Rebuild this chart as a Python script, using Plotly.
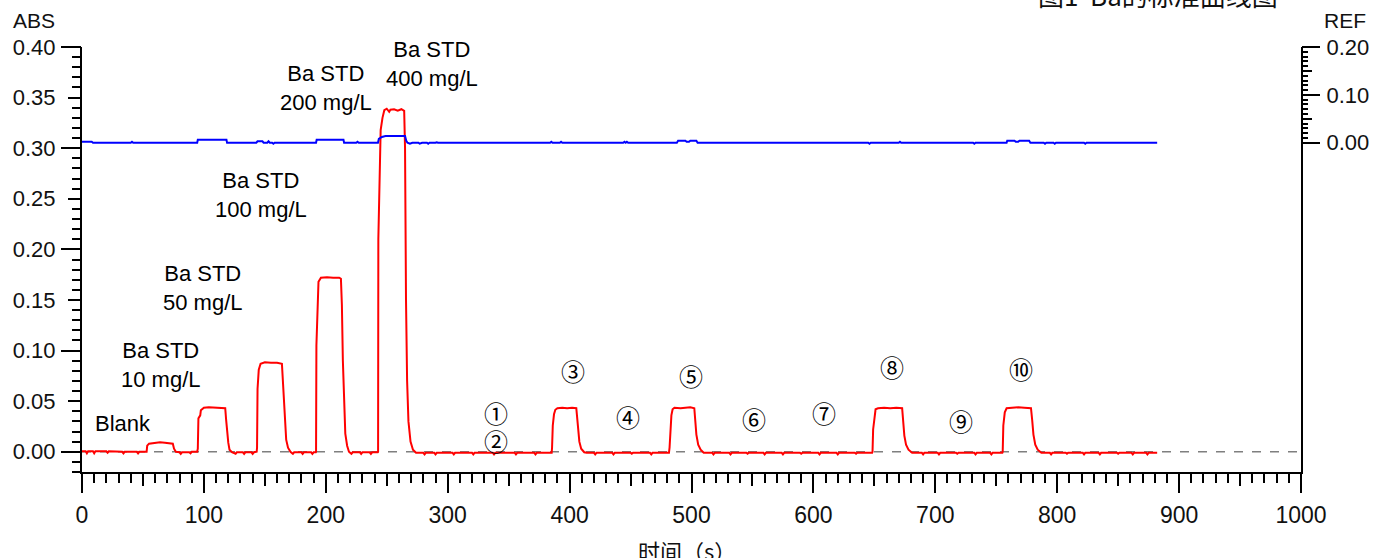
import plotly.graph_objects as go

# ---------------- data ----------------
red_time = [0, 3, 4, 5, 9, 10, 11, 20, 21, 22, 33, 34, 35, 45, 46, 47, 53,
            53.5, 55, 60, 64, 68, 72, 74.5, 75.5, 77, 80, 81, 82, 88, 89, 90, 94.5,
            95, 95.5, 97, 97.5, 100, 104, 108, 113, 117.5, 118.2, 119, 120, 121, 123, 126, 127, 132, 133, 134, 139, 140, 141, 143.3,
            143.6, 144, 145, 146.5, 150, 155, 160, 164, 164.7, 165.5, 166.5, 167.5, 169, 171, 173, 174, 180, 181, 182, 188, 189, 190, 191.8,
            192, 192.3, 193.2, 194, 196, 201, 206, 211, 212.4, 213.2, 214, 215, 216, 217.5, 219, 221, 222, 228, 229, 230, 236, 237, 238, 242.6,
            242.9, 243.1, 244, 245, 246.5, 248, 250, 252, 253, 256, 259, 262, 264.3, 265, 265.8, 266.7, 267.8, 269.5, 271.5, 274,
            280, 281, 282, 289, 290, 291, 304, 305, 306, 320, 321, 322, 337, 338, 339, 355, 356, 357, 371, 372, 373, 385.3,
            385.6, 386.2, 387.2, 388.3, 390, 394, 398, 402, 405.5, 406.3, 407, 408, 409.5, 412, 414,
            420, 421, 422, 435, 436, 437, 450, 451, 452, 466, 467, 468, 481.5,
            482, 482.6, 483.5, 484.5, 486, 491, 495, 499, 502.3, 503, 504, 505.5, 507.5, 510,
            517, 518, 519, 531, 532, 533, 545, 546, 547, 559, 560, 561, 574, 575, 576, 589, 590, 591, 604, 605, 606, 619, 620, 621, 634, 635, 636, 648.2,
            648.5, 649, 650, 651, 653, 658, 663, 668, 672.8, 673.6, 674.6, 676, 678, 681,
            689, 690, 691, 702, 703, 704, 717, 718, 719, 732, 733, 734, 745, 746, 747, 755,
            755.3, 755.8, 757, 758.5, 763, 768, 773, 778.5, 779.5, 780.5, 782, 784, 787,
            794, 795, 796, 807, 808, 809, 821, 822, 823, 834, 835, 836, 849, 850, 851, 861, 862, 863, 873, 874, 875, 882]
red_abs = [0.0005, 0.0005, -0.0015, 0.0005, 0.0005, -0.0015, 0.0005, 0.0005, -0.001, 0.0005, 0.0, -0.0015, 0.0, 0.0, -0.0015, 0.0, 0.0,
           0.006, 0.008, 0.009, 0.0095, 0.009, 0.0085, 0.008, 0.003, 0.0, -0.0005, -0.002, -0.0005, -0.0005, -0.0015, 0.0, 0.0,
           0.003, 0.033, 0.036, 0.041, 0.0435, 0.044, 0.0435, 0.0435, 0.043, 0.032, 0.020, 0.009, 0.002, -0.0005, -0.002, -0.0005, -0.0005, -0.002, -0.0005, -0.0005, -0.002, -0.0005, 0.0,
           0.004, 0.062, 0.081, 0.087, 0.0885, 0.088, 0.088, 0.087, 0.072, 0.050, 0.030, 0.012, 0.004, 0.0, -0.002, -0.0005, -0.0005, -0.002, -0.0005, -0.0005, -0.002, -0.0005, -0.0005,
           0.0, 0.105, 0.150, 0.168, 0.172, 0.1725, 0.172, 0.172, 0.171, 0.145, 0.090, 0.045, 0.018, 0.006, 0.0, -0.002, -0.0005, -0.0005, -0.002, -0.0005, -0.0005, -0.002, -0.0005, -0.0005,
           0.0, 0.210, 0.285, 0.318, 0.330, 0.3375, 0.339, 0.336, 0.338, 0.3385, 0.337, 0.3385, 0.337, 0.300, 0.150, 0.070, 0.030, 0.010, 0.002, -0.001,
           -0.001, -0.0025, -0.001, -0.001, -0.0025, -0.001, -0.001, -0.0025, -0.001, -0.001, -0.0025, -0.001, -0.001, -0.0025, -0.001, -0.001, -0.0025, -0.001, -0.001, -0.0025, -0.001, -0.001,
           0.004, 0.026, 0.037, 0.0415, 0.043, 0.0435, 0.043, 0.0435, 0.043, 0.034, 0.022, 0.010, 0.003, -0.0005, -0.001,
           -0.001, -0.0025, -0.001, -0.001, -0.0025, -0.001, -0.001, -0.002, -0.001, -0.001, -0.0025, -0.001, -0.001,
           0.004, 0.022, 0.036, 0.042, 0.0435, 0.043, 0.0435, 0.044, 0.043, 0.031, 0.017, 0.007, 0.002, -0.001,
           -0.001, -0.0025, -0.001, -0.001, -0.0025, -0.001, -0.001, -0.002, -0.001, -0.001, -0.0025, -0.001, -0.001, -0.0025, -0.001, -0.001, -0.002, -0.001, -0.001, -0.0025, -0.001, -0.001, -0.0025, -0.001, -0.001, -0.002, -0.001, -0.001,
           0.0, 0.022, 0.036, 0.042, 0.043, 0.0435, 0.043, 0.0435, 0.043, 0.030, 0.016, 0.007, 0.002, -0.001,
           -0.001, -0.0025, -0.001, -0.001, -0.0025, -0.001, -0.001, -0.002, -0.001, -0.001, -0.0025, -0.001, -0.001, -0.0025, -0.001, -0.001,
           0.0, 0.026, 0.039, 0.043, 0.0435, 0.044, 0.0435, 0.043, 0.031, 0.017, 0.007, 0.002, -0.001,
           -0.001, -0.0025, -0.001, -0.001, -0.002, -0.001, -0.001, -0.0025, -0.001, -0.001, -0.0025, -0.001, -0.001, -0.002, -0.001, -0.001, -0.0025, -0.001, -0.001, -0.0025, -0.001, -0.001]

ref_time = [0, 8, 9, 40, 41, 42, 94.5, 95, 118.5, 119, 143, 144, 148, 149, 152, 153, 154, 156, 157, 158,
            192, 192.5, 214.5, 215, 225, 226, 227, 242.8, 243.5, 246, 249, 265, 266, 267, 269, 271,
            276, 277, 279, 283, 284, 285, 290, 291, 292, 384, 385, 386, 392, 393, 394, 444, 445, 446, 447, 448,
            488, 489, 495, 496, 498, 499, 504, 505, 645, 646, 647, 670, 671, 672, 731, 732, 733,
            758.5, 759, 765, 766, 768, 769, 777, 778, 789, 790, 791, 797, 798, 799, 822, 823, 824, 882]
ref_value = [0.002, 0.002, 0.0, 0.0, 0.002, 0.0, 0.0, 0.006, 0.006, 0.0, 0.0, 0.003, 0.003, 0.0, 0.0, 0.003, 0.0, 0.0, -0.002, 0.0,
             0.0, 0.006, 0.006, 0.0, 0.0, 0.002, 0.0, 0.0, 0.008, 0.012, 0.014, 0.014, 0.004, 0.0, -0.002, 0.0,
             0.0, -0.002, 0.0, 0.0, -0.002, 0.0, 0.0, 0.001, 0.0, 0.0, 0.002, 0.0, 0.0, 0.002, 0.0, 0.0, 0.002, 0.0, 0.002, 0.0,
             0.0, 0.004, 0.004, 0.002, 0.002, 0.004, 0.004, 0.0, 0.0, -0.002, 0.0, 0.0, 0.002, 0.0, 0.0, -0.002, 0.0,
             0.0, 0.004, 0.004, 0.002, 0.002, 0.004, 0.004, 0.0, 0.0, -0.002, 0.0, 0.0, -0.002, 0.0, 0.0, -0.002, 0.0, 0.0]

label_text = ["Blank", "Ba STD<br>10 mg/L", "Ba STD<br>50 mg/L", "Ba STD<br>100 mg/L",
              "Ba STD<br>200 mg/L", "Ba STD<br>400 mg/L"]
label_x = [33.6, 65.2, 99.3, 146.8, 200.2, 287.1]
label_y = [0.0277, 0.086, 0.162, 0.254, 0.359, 0.383]

sample_text = ["①", "②", "③", "④", "⑤", "⑥", "⑦", "⑧", "⑨", "⑩"]
sample_x = [339.6, 339.6, 402.8, 447.9, 499.6, 551.3, 608.7, 664.5, 721.1, 770.3]
sample_y = [0.0385, 0.0109, 0.080, 0.0346, 0.075, 0.0326, 0.0385, 0.084, 0.0306, 0.082]

x_major = [0, 100, 200, 300, 400, 500, 600, 700, 800, 900, 1000]
x_mid = [50, 150, 250, 350, 450, 550, 650, 750, 850, 950]
abs_ticks = [0.0, 0.05, 0.10, 0.15, 0.20, 0.25, 0.30, 0.35, 0.40]
abs_long = [0.0, 0.10, 0.20, 0.30, 0.40]
ref_major = [0.0, 0.10, 0.20]
ref_mid = [0.05, 0.15]
ref_minor = [i / 100 for i in range(0, 21)]

ABS_RANGE = [-0.02, 0.40]
REF_RANGE = [-0.688, 0.20]
LATIN = "Liberation Sans, Arial, Noto Sans CJK SC"
CJK = "Noto Sans CJK SC"
TXT = "#111111"

fig = go.Figure()
fig.add_hline(y=0, line=dict(color="#7f7f7f", width=1.5, dash="dash"), layer="below")
fig.add_trace(go.Scatter(x=ref_time, y=ref_value, mode="lines", yaxis="y2",
                         line=dict(color="#0000ff", width=2), hoverinfo="skip"))
fig.add_trace(go.Scatter(x=red_time, y=red_abs, mode="lines",
                         line=dict(color="#ff0000", width=2), hoverinfo="skip"))
for ax in ["y3", "y4", "y5"]:
    fig.add_trace(go.Scatter(x=[None], y=[None], yaxis=ax, hoverinfo="skip"))
fig.add_trace(go.Scatter(x=[None], y=[None], xaxis="x2", hoverinfo="skip"))

for t, x, y in zip(label_text, label_x, label_y):
    fig.add_annotation(x=x, y=y, text=t, showarrow=False, align="center",
                       xanchor="center", yanchor="middle",
                       font=dict(family=LATIN, size=22, color="black"))
for t, x, y in zip(sample_text, sample_x, sample_y):
    fig.add_annotation(x=x, y=y, text=t, showarrow=False, xanchor="center", yanchor="middle",
                       font=dict(family=CJK, size=24, color="black"))

paper_labels = [
    ("ABS", -0.0394, 1.0635, LATIN, 21),
    ("REF", 1.0361, 1.0612, LATIN, 21),
    ("图1  Ba的标准曲线图", 0.8823, 1.123, CJK, 26),
    ("时间（s）", 0.4963, -0.1835, CJK, 22),
]
for t, x, y, fam, size in paper_labels:
    fig.add_annotation(xref="paper", yref="paper", x=x, y=y, text=t, showarrow=False,
                       xanchor="center", yanchor="middle",
                       font=dict(family=fam, size=size, color=TXT))

axis_common = dict(showgrid=False, zeroline=False, ticks="outside", tickcolor="black", tickwidth=1.5,
                   automargin=False)

fig.update_layout(
    width=1374, height=558,
    margin=dict(l=82, r=73, t=47, b=86, autoexpand=False),
    paper_bgcolor="white", plot_bgcolor="white",
    showlegend=False,
    xaxis=dict(range=[0, 1000], tickvals=x_major, ticklen=19, showline=True, linecolor="black", linewidth=2,
               tickfont=dict(family=LATIN, size=23, color=TXT), ticklabelstandoff=2,
               minor=dict(dtick=10, tick0=0, ticklen=9, ticks="outside", tickcolor="black", tickwidth=1.5),
               **axis_common),
    xaxis2=dict(range=[0, 1000], overlaying="x", anchor="y", side="bottom", tickvals=x_mid, ticklen=13,
                showticklabels=False, showline=False, **axis_common),
    yaxis=dict(range=ABS_RANGE, tickvals=abs_ticks, tickformat=".2f", ticklen=12, showline=True,
               linecolor="black", linewidth=2, ticklabelstandoff=8,
               tickfont=dict(family=LATIN, size=22, color=TXT),
               minor=dict(dtick=0.01, tick0=0, ticklen=8, ticks="outside", tickcolor="black", tickwidth=1.5),
               **axis_common),
    yaxis4=dict(range=ABS_RANGE, overlaying="y", anchor="x", side="left", tickvals=abs_long, ticklen=20,
                showticklabels=False, showline=False, **axis_common),
    yaxis2=dict(range=REF_RANGE, overlaying="y", anchor="x", side="right", tickvals=ref_major, tickformat=".2f",
                ticklen=17, showline=True, linecolor="black", linewidth=2, ticklabelstandoff=2,
                tickfont=dict(family=LATIN, size=22, color=TXT), **axis_common),
    yaxis3=dict(range=REF_RANGE, overlaying="y", anchor="x", side="right", tickvals=ref_minor, ticklen=6,
                showticklabels=False, showline=False, **axis_common),
    yaxis5=dict(range=REF_RANGE, overlaying="y", anchor="x", side="right", tickvals=ref_mid, ticklen=10,
                showticklabels=False, showline=False, **axis_common),
)

fig.write_html("out.html", config={"displayModeBar": False},
               post_script="document.body.style.margin='0';")
